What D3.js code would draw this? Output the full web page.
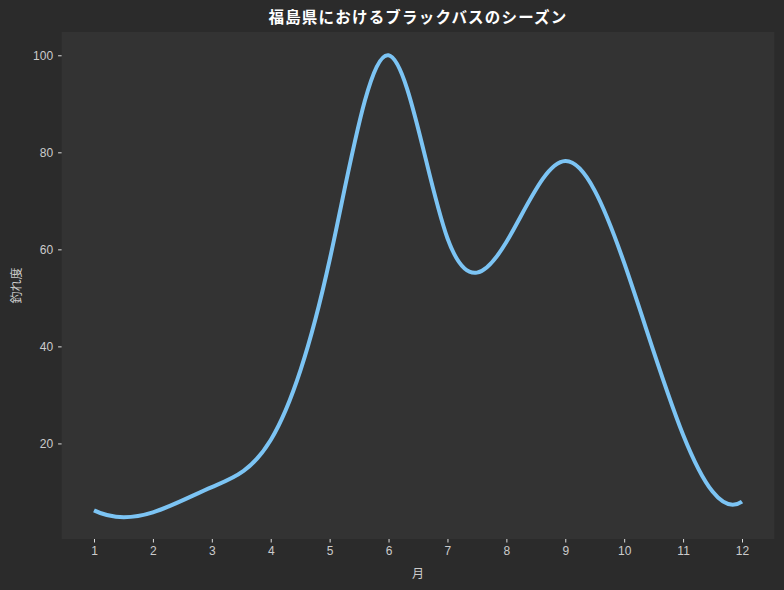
<!DOCTYPE html>
<html>
<head>
<meta charset="utf-8">
<script src="https://cdn.jsdelivr.net/npm/d3@7"></script>
<style>
  body { margin: 0; background: #2b2b2b; }
  svg { display: block; font-family: "Noto Sans CJK JP", "Noto Sans", sans-serif; }
</style>
</head>
<body>
<svg id="chart" width="784" height="590"></svg>
<script>
// 月ごとの釣れ度
var months = [1, 2, 3, 4, 5, 6, 7, 8, 9, 10, 11, 12];
var catchScore = [6.2, 5.8, 11, 20.7, 57.8, 100, 62.3, 61.5, 78.2, 57.2, 21.8, 8.0];
var yTicks = [20, 40, 60, 80, 100];

var title = "福島県におけるブラックバスのシーズン";
var xLabel = "月";
var yLabel = "釣れ度";

var width = 784, height = 590;
var margin = {top: 32, right: 9.6, bottom: 51, left: 61.6};

// cubic spline with "not-a-knot" ends, used as a d3 curve
function NotAKnot(context) { this._context = context; }
NotAKnot.prototype = {
  areaStart: function() { this._line = 0; },
  areaEnd: function() { this._line = NaN; },
  lineStart: function() { this._x = []; this._y = []; },
  point: function(x, y) { this._x.push(+x); this._y.push(+y); },
  lineEnd: function() {
    var xs = this._x, ys = this._y, n = xs.length, ctx = this._context;
    if (n) {
      this._line ? ctx.lineTo(xs[0], ys[0]) : ctx.moveTo(xs[0], ys[0]);
      if (n < 4) {
        for (var k = 1; k < n; k++) ctx.lineTo(xs[k], ys[k]);
      } else {
        var h = [];
        for (var i = 0; i < n - 1; i++) h.push(xs[i + 1] - xs[i]);
        // build system for second derivatives
        var A = [], b = [];
        for (i = 0; i < n; i++) { A.push(new Array(n).fill(0)); b.push(0); }
        A[0][0] = h[1]; A[0][1] = -(h[0] + h[1]); A[0][2] = h[0];
        for (i = 1; i < n - 1; i++) {
          A[i][i - 1] = h[i - 1];
          A[i][i] = 2 * (h[i - 1] + h[i]);
          A[i][i + 1] = h[i];
          b[i] = 6 * ((ys[i + 1] - ys[i]) / h[i] - (ys[i] - ys[i - 1]) / h[i - 1]);
        }
        var m = n - 1;
        A[m][m - 2] = h[m - 1]; A[m][m - 1] = -(h[m - 2] + h[m - 1]); A[m][m] = h[m - 2];
        // gaussian elimination
        for (var c = 0; c < n; c++) {
          var p = c;
          for (var r = c + 1; r < n; r++) if (Math.abs(A[r][c]) > Math.abs(A[p][c])) p = r;
          var t = A[c]; A[c] = A[p]; A[p] = t;
          t = b[c]; b[c] = b[p]; b[p] = t;
          for (r = c + 1; r < n; r++) {
            var f = A[r][c] / A[c][c];
            for (var q = c; q < n; q++) A[r][q] -= f * A[c][q];
            b[r] -= f * b[c];
          }
        }
        var M = new Array(n).fill(0);
        for (r = n - 1; r >= 0; r--) {
          var s = b[r];
          for (q = r + 1; q < n; q++) s -= A[r][q] * M[q];
          M[r] = s / A[r][r];
        }
        for (i = 0; i < n - 1; i++) {
          var slope = (ys[i + 1] - ys[i]) / h[i];
          var d0 = slope - h[i] * (2 * M[i] + M[i + 1]) / 6;
          var d1 = slope + h[i] * (M[i] + 2 * M[i + 1]) / 6;
          ctx.bezierCurveTo(
            xs[i] + h[i] / 3, ys[i] + d0 * h[i] / 3,
            xs[i + 1] - h[i] / 3, ys[i + 1] - d1 * h[i] / 3,
            xs[i + 1], ys[i + 1]);
        }
      }
    }
    if (this._line || (this._line !== 0 && n === 1)) ctx.closePath();
    this._line = 1 - this._line;
    this._x = this._y = null;
  }
};
function curveNotAKnot(context) { return new NotAKnot(context); }

var svg = d3.select("#chart");

svg.append("rect")
  .attr("width", width)
  .attr("height", height)
  .attr("fill", "#2b2b2b");

var x = d3.scaleLinear()
  .domain([0.45, 12.55])
  .range([margin.left, width - margin.right]);

var y = d3.scaleLinear()
  .domain([0.3, 104.8])
  .range([height - margin.bottom, margin.top]);

// plot background
svg.append("rect")
  .attr("x", margin.left)
  .attr("y", margin.top)
  .attr("width", width - margin.left - margin.right)
  .attr("height", height - margin.top - margin.bottom)
  .attr("fill", "#333333");

var xAxis = svg.append("g")
  .attr("transform", "translate(0," + (height - margin.bottom) + ")")
  .call(d3.axisBottom(x).tickValues(months).tickSize(3.5).tickPadding(4).tickFormat(d3.format("d")));

var yAxis = svg.append("g")
  .attr("transform", "translate(" + margin.left + ",0)")
  .call(d3.axisLeft(y).tickValues(yTicks).tickSize(3.5).tickPadding(5).tickFormat(d3.format("d")));

[xAxis, yAxis].forEach(function(g) {
  g.select(".domain").remove();
  g.selectAll(".tick line").attr("stroke", "#dddddd");
  g.selectAll(".tick text")
    .attr("fill", "#cccccc")
    .style("font-size", "12px");
});

var line = d3.line()
  .x(function(d, i) { return x(months[i]); })
  .y(function(d) { return y(d); })
  .curve(curveNotAKnot);

svg.append("path")
  .datum(catchScore)
  .attr("fill", "none")
  .attr("stroke", "#7cc4f4")
  .attr("stroke-width", 4)
  .attr("d", line);

svg.append("text")
  .attr("x", (margin.left + width - margin.right) / 2)
  .attr("y", 23)
  .attr("text-anchor", "middle")
  .attr("fill", "#ffffff")
  .style("font-size", "15.5px")
  .style("font-weight", "bold")
  .style("letter-spacing", "1.2px")
  .text(title);

svg.append("text")
  .attr("x", (margin.left + width - margin.right) / 2)
  .attr("y", 578)
  .attr("text-anchor", "middle")
  .attr("fill", "#cccccc")
  .style("font-size", "12px")
  .text(xLabel);

svg.append("text")
  .attr("transform", "translate(21," + ((margin.top + height - margin.bottom) / 2) + ") rotate(-90)")
  .attr("text-anchor", "middle")
  .attr("fill", "#cccccc")
  .style("font-size", "12px")
  .text(yLabel);
</script>
</body>
</html>
